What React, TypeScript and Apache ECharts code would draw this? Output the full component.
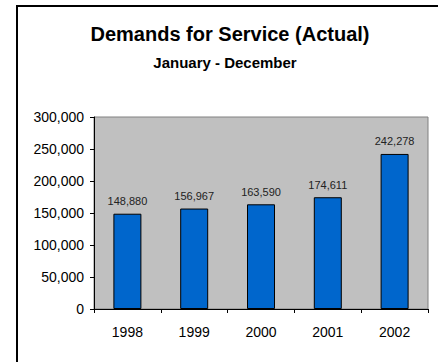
import React, { useEffect, useRef } from "react";
import * as echarts from "echarts";

const categories = ["1998", "1999", "2000", "2001", "2002"];
const demands = [148880, 156967, 163590, 174611, 242278];
const titleText = "Demands for Service (Actual)";
const subtitleText = "January - December";

const FONT = "Arial, 'Liberation Sans', sans-serif";

const fmt = (v: number) => v.toLocaleString("en-US");

export default function App() {
  const ref = useRef<HTMLDivElement>(null);
  useEffect(() => {
    if (!ref.current) return;
    const chart = echarts.init(ref.current, null, { renderer: "svg" });
    chart.setOption({
      animation: false,
      backgroundColor: "#ffffff",
      graphic: [
        {
          type: "rect",
          shape: { x: 17, y: 6, width: 460, height: 400 },
          style: { fill: "none", stroke: "#000", lineWidth: 2 },
          z: 10,
        },
        {
          type: "text",
          x: 230,
          y: 34,
          style: {
            text: titleText,
            font: `bold 20px ${FONT}`,
            fill: "#000",
            align: "center",
            verticalAlign: "middle",
          },
        },
        {
          type: "text",
          x: 225,
          y: 62,
          style: {
            text: subtitleText,
            font: `bold 15px ${FONT}`,
            fill: "#000",
            align: "center",
            verticalAlign: "middle",
          },
        },
      ],
      grid: {
        left: 94,
        right: 10,
        top: 117,
        bottom: 53,
        show: true,
        backgroundColor: "#C0C0C0",
        borderColor: "#808080",
        borderWidth: 1,
      },
      xAxis: {
        type: "category",
        data: categories,
        axisLine: { lineStyle: { color: "#000", width: 1 } },
        axisTick: { show: true, length: 4, lineStyle: { color: "#000" }, alignWithLabel: false },
        axisLabel: { color: "#000", fontSize: 14, fontFamily: FONT, margin: 16 },
      },
      yAxis: {
        type: "value",
        min: 0,
        max: 300000,
        interval: 50000,
        axisLine: { show: true, lineStyle: { color: "#000", width: 1 } },
        axisTick: { show: true, length: 4, lineStyle: { color: "#000" } },
        splitLine: { show: false },
        axisLabel: {
          color: "#000",
          fontSize: 14,
          fontFamily: FONT,
          margin: 10,
          formatter: (v: number) => fmt(v),
        },
      },
      series: [
        {
          type: "bar",
          data: demands,
          barWidth: 28,
          itemStyle: { color: "#0066CC", borderColor: "#000", borderWidth: 1 },
          label: {
            show: true,
            position: "top",
            distance: 7,
            color: "#222",
            fontSize: 11,
            fontFamily: FONT,
            formatter: (p: any) => fmt(p.value),
          },
        },
      ],
    });
    return () => chart.dispose();
  }, []);
  return (
    <div
      ref={ref}
      style={{ position: "fixed", left: 0, top: 0, width: 438, height: 362 }}
    />
  );
}
